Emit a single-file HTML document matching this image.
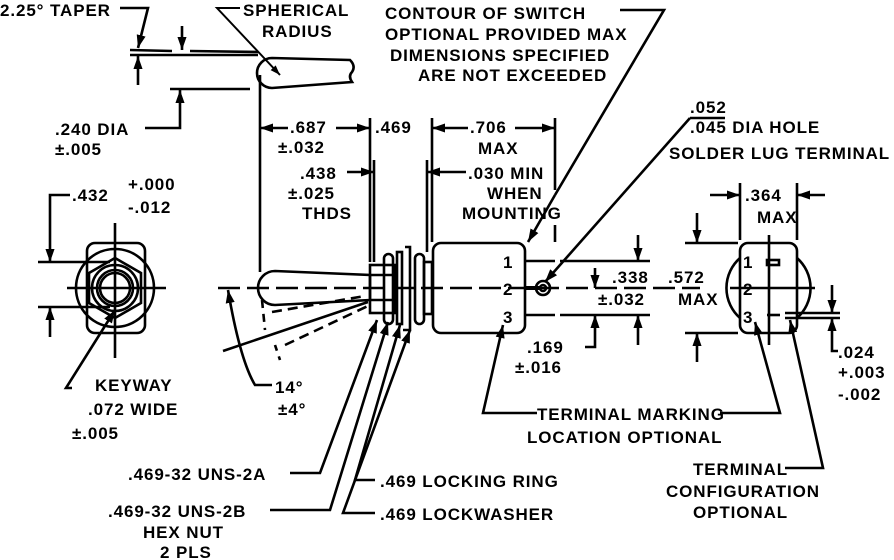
<!DOCTYPE html>
<html><head><meta charset="utf-8"><style>
html,body{margin:0;padding:0;background:#fff;}
svg{display:block;}
text{font-family:"Liberation Sans",sans-serif;font-size:17px;font-weight:bold;fill:#000;letter-spacing:0.9px;}
</style></head><body>
<svg width="894" height="560" viewBox="0 0 894 560" xmlns="http://www.w3.org/2000/svg">
<defs>
<marker id="a" viewBox="0 0 10 10" refX="10" refY="5" markerWidth="5" markerHeight="5" orient="auto-start-reverse" markerUnits="strokeWidth"><path d="M0,1.5 L10,5 L0,8.5z" fill="#000"/></marker>
</defs>
<g stroke="#000" stroke-width="2.6" fill="none">
<!-- Left view -->
<rect x="87" y="243" width="58" height="90" rx="8"/>
<circle cx="115" cy="288" r="39"/>
<polygon points="115,258 141,273 141,303 115,318 89,303 89,273"/>
<circle cx="115" cy="288" r="23"/><circle cx="115" cy="288" r="18"/><circle cx="115" cy="288" r="15"/>
<line x1="67" y1="288" x2="166" y2="288"/><line x1="115" y1="223" x2="115" y2="358"/>
<line x1="38" y1="262" x2="110" y2="262"/><line x1="38" y1="307" x2="110" y2="307"/>
<polyline points="70,195 50,195 50,262" marker-end="url(#a)"/>
<line x1="50" y1="337" x2="50" y2="307" marker-end="url(#a)"/>
<polyline points="72,388 66,388 115,310" marker-end="url(#a)"/>
<!-- taper top-left -->
<polyline points="120,8 148,8 138,48" marker-end="url(#a)"/>
<line x1="130" y1="50" x2="172" y2="51"/><line x1="190" y1="51" x2="258" y2="52"/>
<line x1="130" y1="55" x2="258" y2="55"/>
<line x1="182" y1="26" x2="182" y2="50" marker-end="url(#a)"/>
<line x1="138" y1="85" x2="138" y2="56" marker-end="url(#a)"/>
<line x1="170" y1="89" x2="250" y2="89"/>
<path d="M272,58 L350,60 Q356,66 352,72 Q348,76 352,82 L272,88 A15,15 0 0 1 272,58z"/>
<polyline points="150,0 150,0"/>
<polyline points="240,8 217,8 280,75" marker-end="url(#a)" stroke-width="2"/>
<polyline points="145,128 180,128 180,90" marker-end="url(#a)"/>
<!-- Center: lever -->
<line x1="218" y1="288" x2="700" y2="288" stroke-dasharray="22,7"/>
<path d="M275,271 L370,275 L370,300 L275,305 A17,17 0 0 1 275,271z"/>
<path d="M262,300 L265,330" stroke-dasharray="8,6"/>
<line x1="272" y1="312" x2="365" y2="296" stroke-dasharray="10,6"/>
<line x1="285" y1="345" x2="370" y2="305" stroke-dasharray="10,6"/>
<line x1="275" y1="345" x2="280" y2="360" stroke-dasharray="6,6"/>
<line x1="223" y1="351" x2="368" y2="302"/>
<path d="M228,290 Q240,360 255,385 L272,385" marker-start="url(#a)"/>
<!-- bushing, nuts -->
<rect x="370" y="265" width="25" height="48"/>
<line x1="370" y1="275" x2="395" y2="275"/><line x1="370" y1="300" x2="395" y2="300"/>
<rect x="384" y="254" width="9" height="70" rx="4.5"/>
<rect x="397" y="252" width="5" height="72"/>
<path d="M405,247 L410,247 L410,330 L403,330"/>
<rect x="415" y="254" width="9" height="70" rx="4.5"/>
<rect x="424" y="262" width="8" height="52"/>
<!-- body -->
<rect x="433" y="243" width="92" height="90" rx="8"/>
<line x1="525" y1="261" x2="555" y2="261"/><line x1="525" y1="315" x2="555" y2="315"/>
<line x1="525" y1="288" x2="540" y2="288" stroke-width="4"/>
<circle cx="543" cy="288" r="7"/><circle cx="543" cy="288" r="3"/>
<!-- dimension extension lines -->
<line x1="260" y1="75" x2="260" y2="272"/>
<line x1="370" y1="118" x2="370" y2="262"/>
<line x1="374" y1="160" x2="374" y2="262"/>
<line x1="432" y1="118" x2="432" y2="242"/>
<line x1="427" y1="160" x2="427" y2="252"/>
<line x1="555" y1="118" x2="555" y2="190"/>
<line x1="555" y1="225" x2="555" y2="242"/>
<line x1="260" y1="128" x2="288" y2="128" marker-start="url(#a)"/>
<line x1="336" y1="128" x2="370" y2="128" marker-end="url(#a)"/>
<line x1="432" y1="128" x2="468" y2="128" marker-start="url(#a)"/>
<line x1="515" y1="128" x2="555" y2="128" marker-end="url(#a)"/>
<line x1="347" y1="172" x2="374" y2="172" marker-end="url(#a)"/>
<line x1="427" y1="172" x2="466" y2="172" marker-start="url(#a)"/>
<polyline points="620,10 664,10 664,10 555,195" />
<line x1="555" y1="195" x2="528" y2="242" marker-end="url(#a)"/>
<line x1="725" y1="118" x2="690" y2="118"/>
<line x1="690" y1="118" x2="545" y2="282" marker-end="url(#a)"/>
<!-- .338 dims -->
<line x1="560" y1="261" x2="650" y2="261"/><line x1="560" y1="315" x2="650" y2="315"/>
<line x1="638" y1="235" x2="638" y2="261" marker-end="url(#a)"/>
<line x1="638" y1="345" x2="638" y2="315" marker-end="url(#a)"/>
<line x1="595" y1="268" x2="595" y2="288" marker-end="url(#a)"/>
<polyline points="585,347 595,347 595,315" marker-end="url(#a)"/>
<!-- right view -->
<rect x="740" y="243" width="57" height="90" rx="8"/>
<path d="M740,258 A40,40 0 0 0 740,318"/><path d="M797,258 A40,40 0 0 1 797,318"/>
<line x1="730" y1="288" x2="815" y2="288"/><line x1="769" y1="235" x2="769" y2="345"/>
<rect x="767" y="260" width="12" height="5"/>
<line x1="767" y1="315" x2="780" y2="315"/>
<line x1="740" y1="183" x2="740" y2="240"/><line x1="797" y1="183" x2="797" y2="240"/>
<line x1="710" y1="195" x2="740" y2="195" marker-end="url(#a)"/>
<line x1="825" y1="195" x2="797" y2="195" marker-end="url(#a)"/>
<line x1="685" y1="243" x2="738" y2="243"/><line x1="685" y1="333" x2="738" y2="333"/>
<line x1="697" y1="213" x2="697" y2="243" marker-end="url(#a)"/>
<line x1="697" y1="362" x2="697" y2="333" marker-end="url(#a)"/>
<line x1="785" y1="313" x2="840" y2="313"/><line x1="785" y1="318" x2="840" y2="318"/>
<line x1="832" y1="285" x2="832" y2="313" marker-end="url(#a)"/>
<polyline points="838,351 832,351 832,318" marker-end="url(#a)"/>
<!-- leaders bottom -->
<polyline points="537,413 483,413 503,325" marker-end="url(#a)"/>
<polyline points="720,413 780,413 755,322" marker-end="url(#a)"/>
<polyline points="785,468 823,468 790,320" marker-end="url(#a)"/>
<polyline points="290,473 320,473 377,320" marker-end="url(#a)"/>
<polyline points="270,510 330,510 388,322" marker-end="url(#a)"/>
<polyline points="375,480 355,480 400,325" marker-end="url(#a)"/>
<polyline points="375,513 343,513 410,330" marker-end="url(#a)"/>
</g>
<text x="0" y="16">2.25° TAPER</text>
<text x="243" y="16">SPHERICAL</text>
<text x="262" y="37">RADIUS</text>
<text x="385" y="19">CONTOUR OF SWITCH</text>
<text x="385" y="40">OPTIONAL PROVIDED MAX</text>
<text x="390" y="61">DIMENSIONS SPECIFIED</text>
<text x="418" y="81">ARE NOT EXCEEDED</text>
<text x="690" y="113">.052</text>
<text x="690" y="133">.045  DIA HOLE</text>
<text x="669" y="159">SOLDER LUG TERMINAL</text>
<text x="55" y="135">.240 DIA</text>
<text x="55" y="155">±.005</text>
<text x="290" y="133">.687</text>
<text x="375" y="133">.469</text>
<text x="470" y="133">.706</text>
<text x="478" y="154">MAX</text>
<text x="278" y="153">±.032</text>
<text x="300" y="179">.438</text>
<text x="468" y="179">.030 MIN</text>
<text x="288" y="199">±.025</text>
<text x="487" y="199">WHEN</text>
<text x="302" y="219">THDS</text>
<text x="462" y="219">MOUNTING</text>
<text x="72" y="201">.432</text>
<text x="128" y="190">+.000</text>
<text x="128" y="213">-.012</text>
<text x="745" y="201">.364</text>
<text x="757" y="223">MAX</text>
<text x="612" y="283">.338</text>
<text x="598" y="305">±.032</text>
<text x="668" y="283">.572</text>
<text x="678" y="305">MAX</text>
<text x="503" y="268">1</text><text x="503" y="295">2</text><text x="503" y="323">3</text>
<text x="743" y="268">1</text><text x="743" y="295">2</text><text x="743" y="323">3</text>
<text x="527" y="353">.169</text>
<text x="515" y="373">±.016</text>
<text x="838" y="358">.024</text>
<text x="838" y="378">+.003</text>
<text x="838" y="400">-.002</text>
<text x="95" y="391">KEYWAY</text>
<text x="88" y="415">.072 WIDE</text>
<text x="72" y="439">±.005</text>
<text x="275" y="393">14°</text>
<text x="278" y="415">±4°</text>
<text x="537" y="420">TERMINAL MARKING</text>
<text x="527" y="443">LOCATION OPTIONAL</text>
<text x="128" y="480">.469-32 UNS-2A</text>
<text x="380" y="487">.469 LOCKING RING</text>
<text x="108" y="517">.469-32 UNS-2B</text>
<text x="143" y="538">HEX NUT</text>
<text x="160" y="558">2 PLS</text>
<text x="380" y="520">.469 LOCKWASHER</text>
<text x="693" y="475">TERMINAL</text>
<text x="666" y="497">CONFIGURATION</text>
<text x="693" y="518">OPTIONAL</text>
</svg>
</body></html>
